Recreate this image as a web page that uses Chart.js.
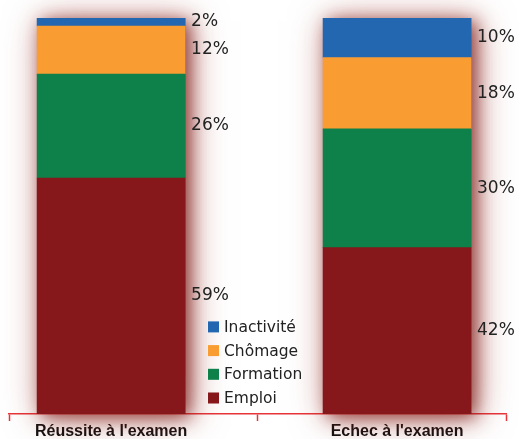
<!DOCTYPE html>
<html>
<head>
<meta charset="utf-8">
<script src="https://cdn.jsdelivr.net/npm/chart.js@4/dist/chart.umd.min.js"></script>
<style>
  html, body { margin: 0; padding: 0; background: #fff; }
  canvas { display: block; }
</style>
</head>
<body>
<canvas id="chart" width="519" height="439"></canvas>
<script>
// Categories and stacked shares (%), bottom segment first
const categories = ["Réussite à l'examen", "Echec à l'examen"];
const seriesNames = ['Emploi', 'Formation', 'Chômage', 'Inactivité'];
const emploi = [59, 42];
const formation = [26, 30];
const chomage = [12, 18];
const inactivite = [2, 10];
const seriesColors = ['#86171a', '#0e804a', '#f99d33', '#2467b1'];

const seriesValues = [emploi, formation, chomage, inactivite];
const axisRed = '#e8353a';

// each bar is shown as a full 100% stack
const totals = categories.map((c, i) => seriesValues.reduce((s, v) => s + v[i], 0));

const datasets = seriesNames.map((name, k) => ({
    label: name,
    data: categories.map((c, i) => ({ x: i, y: seriesValues[k][i] / totals[i] * 100 })),
    raw: seriesValues[k],
    backgroundColor: seriesColors[k],
    borderWidth: 0,
    barThickness: 148
}));

// soft reddish halo behind each whole bar
const glowPlugin = {
    id: 'glow',
    beforeDatasetsDraw(chart) {
        const ctx = chart.ctx;
        const first = chart.getDatasetMeta(0).data;
        const last = chart.getDatasetMeta(datasets.length - 1).data;
        ctx.save();
        ctx.fillStyle = '#86171a';
        // two passes: a wide faint halo and a tighter, darker one
        [[34, 'rgba(150, 40, 30, 0.55)'], [16, 'rgba(120, 20, 15, 0.7)']].forEach(([blur, colour]) => {
            ctx.shadowColor = colour;
            ctx.shadowBlur = blur;
            ctx.shadowOffsetX = 5;
            ctx.shadowOffsetY = 3;
            first.forEach((bottom, i) => {
                const top = last[i];
                ctx.fillRect(bottom.x - bottom.width / 2, top.y, bottom.width, bottom.base - top.y);
            });
        });
        ctx.restore();
    }
};

// percentage text to the right of each segment
const valueLabels = {
    id: 'valueLabels',
    afterDatasetsDraw(chart) {
        const ctx = chart.ctx;
        ctx.save();
        ctx.font = '17px "DejaVu Sans"';
        ctx.fillStyle = '#222';
        ctx.textAlign = 'left';
        ctx.textBaseline = 'middle';
        chart.data.datasets.forEach((ds, k) => {
            chart.getDatasetMeta(k).data.forEach((bar, i) => {
                const yMid = (bar.y + bar.base) / 2;
                ctx.fillText(ds.raw[i] + '%', bar.x + bar.width / 2 + 6, yMid);
            });
        });
        ctx.restore();
    }
};

// legend sitting between the two bars, top series first
const innerLegend = {
    id: 'innerLegend',
    afterDraw(chart) {
        const ctx = chart.ctx;
        const area = chart.chartArea;
        const left = area.left + 199;
        const rowGap = 23.7;
        const lastY = area.bottom - 16;
        ctx.save();
        ctx.font = '15.5px "DejaVu Sans"';
        ctx.textAlign = 'left';
        ctx.textBaseline = 'middle';
        const items = chart.data.datasets.slice().reverse();
        items.forEach((ds, j) => {
            const y = lastY - (items.length - 1 - j) * rowGap;
            ctx.fillStyle = ds.backgroundColor;
            ctx.fillRect(left, y - 5.5, 11, 11);
            ctx.fillStyle = '#222';
            ctx.fillText(ds.label, left + 16, y + 1);
        });
        ctx.restore();
    }
};

new Chart(document.getElementById('chart'), {
    type: 'bar',
    data: { datasets },
    plugins: [glowPlugin, valueLabels, innerLegend],
    options: {
        responsive: false,
        animation: false,
        devicePixelRatio: 1,
        layout: { padding: { top: 18, left: 9, right: 13, bottom: -4 } },
        plugins: {
            legend: { display: false },
            tooltip: { enabled: false }
        },
        scales: {
            x: {
                type: 'linear',
                stacked: true,
                offset: false,
                min: -0.357,
                max: 1.381,
                z: 1,
                afterBuildTicks(scale) {
                    const mid = (scale.min + scale.max) / 2;
                    scale.ticks = [scale.min, 0, mid, 1, scale.max].map(value => ({ value }));
                },
                border: { display: true, color: axisRed, width: 1.5 },
                grid: {
                    offset: false,
                    drawOnChartArea: false,
                    drawTicks: true,
                    tickLength: 7,
                    tickWidth: 1.5,
                    tickColor: (ctx) => Number.isInteger(ctx.tick && ctx.tick.value) ? 'rgba(0,0,0,0)' : axisRed
                },
                ticks: {
                    autoSkip: false,
                    maxRotation: 0,
                    minRotation: 0,
                    padding: 3,
                    color: '#111',
                    font: { family: '"Liberation Sans"', size: 16, weight: 'bold', lineHeight: 1 },
                    callback: (value) => Number.isInteger(value) && categories[value] ? categories[value] : ''
                }
            },
            y: {
                display: false,
                stacked: true,
                min: 0,
                max: 100
            }
        }
    }
});
</script>
</body>
</html>
